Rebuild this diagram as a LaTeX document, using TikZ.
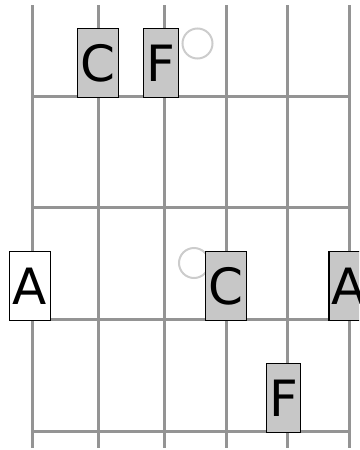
\documentclass[tikz,border=0pt]{standalone}
\usepackage{fontspec}
\setmainfont{DejaVu Sans}
\usetikzlibrary{positioning}
\begin{document}
\begin{tikzpicture}[x=1pt,y=-1pt,
    fretline/.style={draw=black!42,line width=3pt},
    note/.style={rectangle,draw=black,line width=1.2pt,fill=black!22,
                 minimum height=69pt,inner xsep=3pt,inner ysep=0pt,
                 font=\fontsize{50}{60}\selectfont,anchor=south},
    rootnote/.style={note,fill=white},
    ghost/.style={circle,draw=black!20,line width=2pt,minimum size=30pt,inner sep=0pt},
  ]
  \useasboundingbox (0,0) rectangle (359,450);
  \clip (0,0) rectangle (359,450);

  % strings and frets
  \foreach \s in {32,98,164,226,287,349}{
    \draw[fretline] (\s,5) -- (\s,448);
  }
  \foreach \f in {96,207,319,431}{
    \draw[fretline] (32,\f) -- (349,\f);
  }

  % notes
  \node[note] (c1) at (98,98) {C};
  \node[note] (f1) at (161,98) {F};
  \node[ghost] (g1) at (197.5,43.5) {};

  \node[rootnote] (a1) at (30,321) {A};
  \node[ghost] (g2) at (194,263) {};
  \node[note] (c2) at (226,321) {C};
  \node[note] (a2) at (349,321) {A};

  \node[note] (f2) at (283.5,433) {F};
\end{tikzpicture}
\end{document}
